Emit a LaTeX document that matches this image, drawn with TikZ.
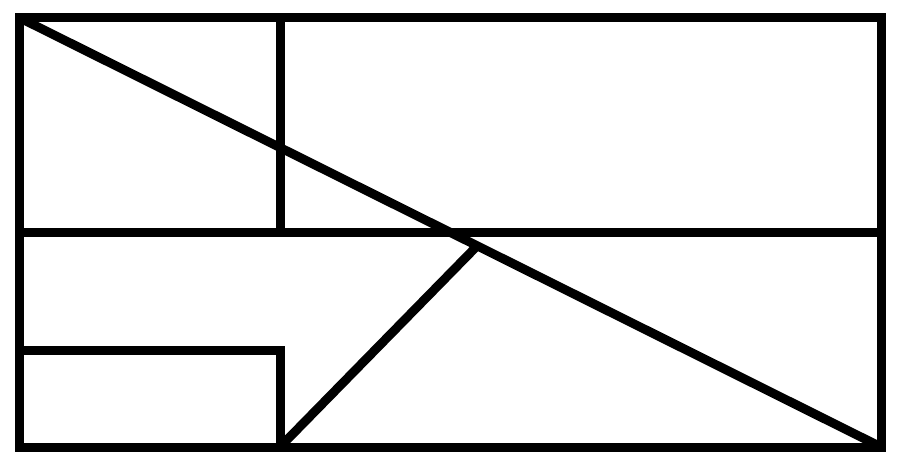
\documentclass[tikz,border=0pt]{standalone}
\usepackage{amsmath}

\begin{document}
\begin{tikzpicture}[x=1pt, y=-1pt,
                    edge/.style={draw, line width=9pt}]
  \useasboundingbox (0,0) rectangle (900,462);
  % outer frame
  \coordinate (tl) at (19,17.5);
  \coordinate (tr) at (881,17.5);
  \coordinate (br) at (881,447);
  \coordinate (bl) at (19,447);
  % inner points
  \coordinate (top) at (280,17.5);
  \coordinate (midl) at (19,233);
  \coordinate (midr) at (881,233);
  \coordinate (midc) at (280,233);
  \coordinate (stepl) at (19,351);
  \coordinate (stepc) at (280,351);
  \coordinate (foot) at (280,447);
  \coordinate (tip) at (477,246);
   \draw[edge] (tl) -- (tr) -- (br) -- (bl) -- cycle;
   \draw[edge] (top) -- (midc);
   \draw[edge] (midl) -- (midr);
   \draw[edge] (tl) -- (br);
   \draw[edge] (stepl) -- (stepc) -- (foot);
   \draw[edge] (foot) -- (tip);
 \end{tikzpicture}
\end{document}
